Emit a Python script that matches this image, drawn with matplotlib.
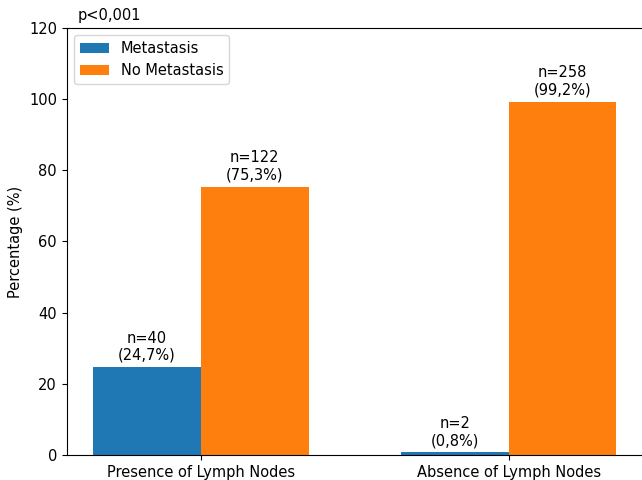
import matplotlib
matplotlib.use("Agg")
import matplotlib.pyplot as plt
import numpy as np

plt.rcParams["font.size"] = 10.5

categories = ["Presence of Lymph Nodes", "Absence of Lymph Nodes"]
series_names = ["Metastasis", "No Metastasis"]
metastasis_pct = [24.7, 0.8]
no_metastasis_pct = [75.3, 99.2]
metastasis_n = [40, 2]
no_metastasis_n = [122, 258]
colors = ["#1f77b4", "#ff7f0e"]

fig = plt.figure(figsize=(6.42, 4.8), dpi=100)
ax = fig.add_axes([0.104, 0.052, 0.897, 0.89])

x = np.arange(len(categories))
w = 0.35
b1 = ax.bar(x - w / 2, metastasis_pct, w, color=colors[0], label=series_names[0])
b2 = ax.bar(x + w / 2, no_metastasis_pct, w, color=colors[1], label=series_names[1])

def fmt(v):
    return f"{v:.1f}".replace(".", ",")

for bars, vals, ns in [(b1, metastasis_pct, metastasis_n), (b2, no_metastasis_pct, no_metastasis_n)]:
    for rect, v, n in zip(bars, vals, ns):
        ax.annotate(f"n={n}\n({fmt(v)}%)", (rect.get_x() + rect.get_width() / 2, v),
                    xytext=(0, 3), textcoords="offset points", ha="center", va="bottom")

ax.set_xticks(x)
ax.set_xticklabels(categories)
ax.set_ylim(0, 120)
ax.set_ylabel("Percentage (%)")
ax.text(0.019, 1.012, "p<0,001", transform=ax.transAxes, ha="left", va="bottom")
ax.legend(loc="upper left")

fig.savefig("out.png", dpi=100)
